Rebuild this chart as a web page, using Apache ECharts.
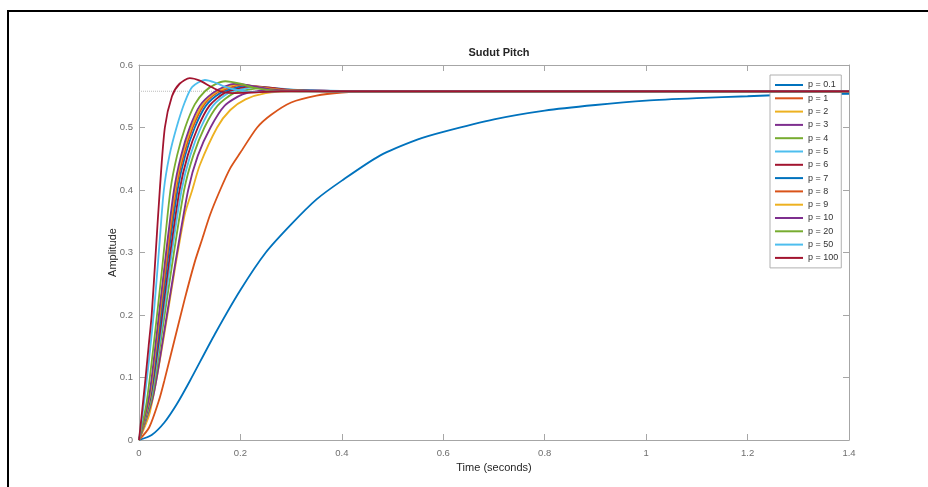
<!DOCTYPE html>
<html>
<head>
<meta charset="utf-8">
<script src="https://cdn.jsdelivr.net/npm/echarts@6/dist/echarts.min.js"></script>
<style>
  html, body { margin: 0; padding: 0; background: #fff; }
  #chart { width: 928px; height: 487px; }
</style>
</head>
<body>
<div id="chart"></div>
<script>
// Step responses of the pitch angle for several values of p: [time (s), amplitude]
const p0_1 = [[0,0],[0.025,0.008],[0.05,0.028],[0.075,0.058],[0.1,0.094],[0.15,0.17],[0.2,0.24],[0.25,0.3],[0.3,0.345],[0.35,0.385],[0.4,0.415],[0.475,0.455],[0.55,0.481],[0.6,0.493],[0.7,0.513],[0.8,0.527],[0.9,0.536],[1.0,0.543],[1.1,0.547],[1.2,0.55],[1.3,0.553],[1.4,0.554]];
const p1 = [[0,0],[0.02,0.02],[0.04,0.065],[0.05,0.095],[0.07,0.16],[0.09,0.225],[0.11,0.285],[0.124,0.32],[0.14,0.36],[0.16,0.4],[0.18,0.435],[0.2,0.46],[0.233,0.5],[0.26,0.52],[0.3,0.54],[0.35,0.551],[0.4,0.556],[0.45,0.558],[1.4,0.558]];
const p2 = [[0,0],[0.02,0.04],[0.035,0.1],[0.05,0.17],[0.07,0.27],[0.09,0.36],[0.105,0.4],[0.12,0.44],[0.154,0.5],[0.18,0.528],[0.21,0.545],[0.25,0.555],[0.3,0.558],[1.4,0.558]];
const p3 = [[0,0],[0.028,0.07],[0.049,0.17],[0.073,0.29],[0.097,0.4],[0.116,0.455],[0.141,0.5],[0.169,0.535],[0.204,0.553],[0.239,0.559],[0.267,0.561],[0.31,0.56],[0.366,0.559],[0.422,0.558],[1.4,0.558]];
const p4 = [[0,0],[0.026,0.07],[0.045,0.17],[0.067,0.29],[0.089,0.4],[0.107,0.455],[0.129,0.5],[0.155,0.535],[0.187,0.555],[0.219,0.561],[0.245,0.563],[0.285,0.561],[0.336,0.559],[0.387,0.558],[1.4,0.558]];
const p5 = [[0,0],[0.024,0.07],[0.043,0.17],[0.063,0.29],[0.084,0.4],[0.101,0.455],[0.122,0.5],[0.146,0.535],[0.176,0.555],[0.207,0.562],[0.231,0.565],[0.269,0.563],[0.317,0.56],[0.365,0.559],[0.437,0.558],[1.4,0.558]];
const p6 = [[0,0],[0.023,0.07],[0.041,0.17],[0.06,0.29],[0.08,0.4],[0.096,0.455],[0.116,0.5],[0.139,0.535],[0.168,0.555],[0.197,0.563],[0.22,0.566],[0.256,0.564],[0.302,0.56],[0.348,0.559],[0.416,0.558],[1.4,0.558]];
const p7 = [[0,0],[0.022,0.07],[0.039,0.17],[0.057,0.29],[0.076,0.4],[0.091,0.455],[0.11,0.5],[0.132,0.535],[0.16,0.555],[0.187,0.563],[0.209,0.567],[0.243,0.564],[0.287,0.56],[0.331,0.559],[0.395,0.558],[1.4,0.558]];
const p8 = [[0,0],[0.021,0.07],[0.037,0.17],[0.055,0.29],[0.073,0.4],[0.088,0.455],[0.106,0.5],[0.127,0.535],[0.153,0.555],[0.18,0.564],[0.2,0.568],[0.234,0.565],[0.275,0.561],[0.318,0.559],[0.38,0.558],[1.4,0.558]];
const p9 = [[0,0],[0.021,0.07],[0.036,0.17],[0.053,0.29],[0.071,0.4],[0.085,0.455],[0.103,0.5],[0.124,0.535],[0.149,0.555],[0.175,0.565],[0.195,0.569],[0.227,0.566],[0.268,0.561],[0.309,0.559],[0.37,0.558],[1.4,0.558]];
const p10 = [[0,0],[0.02,0.07],[0.035,0.17],[0.052,0.29],[0.069,0.4],[0.083,0.455],[0.1,0.5],[0.12,0.535],[0.145,0.555],[0.17,0.566],[0.19,0.57],[0.22,0.567],[0.26,0.561],[0.3,0.559],[0.36,0.558],[1.4,0.558]];
const p20 = [[0,0],[0.015,0.06],[0.03,0.16],[0.045,0.27],[0.062,0.4],[0.075,0.455],[0.091,0.5],[0.11,0.537],[0.13,0.558],[0.15,0.569],[0.17,0.574],[0.2,0.57],[0.23,0.563],[0.27,0.559],[0.32,0.558],[1.4,0.558]];
const p50 = [[0,0],[0.01,0.06],[0.02,0.13],[0.03,0.21],[0.04,0.31],[0.049,0.4],[0.06,0.455],[0.074,0.5],[0.09,0.54],[0.105,0.565],[0.13,0.576],[0.15,0.572],[0.17,0.565],[0.2,0.559],[0.23,0.557],[0.28,0.558],[1.4,0.558]];
const p100 = [[0,0],[0.006,0.045],[0.013,0.1],[0.019,0.15],[0.025,0.2],[0.033,0.3],[0.041,0.4],[0.051,0.5],[0.065,0.55],[0.08,0.57],[0.1,0.579],[0.12,0.575],[0.14,0.566],[0.16,0.558],[0.185,0.555],[0.22,0.556],[0.28,0.558],[1.4,0.558]];

const seriesNames = ['p = 0.1','p = 1','p = 2','p = 3','p = 4','p = 5','p = 6','p = 7','p = 8','p = 9','p = 10','p = 20','p = 50','p = 100'];
const seriesData = [p0_1, p1, p2, p3, p4, p5, p6, p7, p8, p9, p10, p20, p50, p100];
const steadyState = 0.558;

const xTicks = [0, 0.2, 0.4, 0.6, 0.8, 1, 1.2, 1.4];
const yTicks = [0, 0.1, 0.2, 0.3, 0.4, 0.5, 0.6];

const palette = ['#0072BD','#D95319','#EDB120','#7E2F8E','#77AC30','#4DBEEE','#A2142F'];
const axisGray = '#a6a6a6';
const labelGray = '#6e6e6e';
const fontFamily = 'Liberation Sans, Arial, sans-serif';

const chart = echarts.init(document.getElementById('chart'), null, { renderer: 'canvas' });

const lineSeries = seriesData.map((d, i) => ({
  name: seriesNames[i],
  type: 'line',
  data: d,
  showSymbol: false,
  symbol: 'none',
  smooth: 0.25,
  lineStyle: { width: 1.8, color: palette[i % palette.length] },
  itemStyle: { color: palette[i % palette.length] },
  z: 3 + i
}));

// top and right edges of the axes box, ticks pointing inward, no labels
const boxAxis = {
  type: 'value',
  axisLine: { show: true, onZero: false, lineStyle: { color: axisGray, width: 1 } },
  axisTick: { show: true, inside: true, length: 6, lineStyle: { color: axisGray } },
  axisLabel: { show: false },
  splitLine: { show: false }
};

chart.setOption({
  animation: false,
  backgroundColor: '#fff',
  color: palette,
  title: {
    text: 'Sudut Pitch',
    left: 494,
    top: 42,
    textAlign: 'center',
    textStyle: { fontFamily, fontSize: 11, fontWeight: 'bold', color: '#262626' }
  },
  grid: { left: 139, right: 79, top: 65, bottom: 47, containLabel: false },
  legend: {
    orient: 'vertical',
    left: 770,
    top: 75,
    data: seriesNames,
    icon: 'rect',
    itemWidth: 28,
    itemHeight: 2,
    itemGap: 2.3,
    padding: [4.5, 3, 4.5, 5],
    backgroundColor: '#fff',
    borderColor: '#b0b0b0',
    borderWidth: 1,
    borderRadius: 0,
    textStyle: { fontFamily, fontSize: 9, color: '#333', lineHeight: 11, padding: [0, 0, 0, 0] },
    selectedMode: false
  },
  xAxis: [
    {
      type: 'value',
      min: 0, max: 1.4, interval: 0.2,
      name: 'Time (seconds)',
      nameLocation: 'middle',
      nameGap: 22,
      nameMoveOverlap: false,
      nameTextStyle: { fontFamily, fontSize: 11, color: '#262626' },
      axisLine: { show: true, onZero: false, lineStyle: { color: axisGray, width: 1 } },
      axisTick: { show: true, inside: true, length: 6, lineStyle: { color: axisGray } },
      axisLabel: { fontFamily, fontSize: 9.5, color: labelGray, margin: 8,
        formatter: v => { const t = xTicks.find(x => Math.abs(x - v) < 1e-9); return t === undefined ? '' : String(t); } },
      splitLine: { show: false }
    },
    Object.assign({}, boxAxis, { position: 'top', min: 0, max: 1.4, interval: 0.2 })
  ],
  yAxis: [
    {
      type: 'value',
      min: 0, max: 0.6, interval: 0.1,
      name: 'Amplitude',
      nameLocation: 'middle',
      nameGap: 21,
      nameMoveOverlap: false,
      nameTextStyle: { fontFamily, fontSize: 11, color: '#262626' },
      axisLine: { show: true, onZero: false, lineStyle: { color: axisGray, width: 1 } },
      axisTick: { show: true, inside: true, length: 6, lineStyle: { color: axisGray } },
      axisLabel: { fontFamily, fontSize: 9.5, color: labelGray, margin: 6,
        formatter: v => { const t = yTicks.find(y => Math.abs(y - v) < 1e-9); return t === undefined ? '' : String(t); } },
      splitLine: { show: false }
    },
    Object.assign({}, boxAxis, { position: 'right', min: 0, max: 0.6, interval: 0.1 })
  ],
  series: [
    {
      name: 'steady',
      type: 'line',
      data: [[0, steadyState], [1.4, steadyState]],
      symbol: 'none',
      lineStyle: { type: 'dotted', width: 1, color: '#bdbdbd' },
      z: 1,
      silent: true
    }
  ].concat(lineSeries),
  graphic: [
    {
      type: 'rect',
      shape: { x: 8, y: 11, width: 1000, height: 1000 },
      style: { fill: 'none', stroke: '#000', lineWidth: 2 },
      silent: true
    }
  ]
});
</script>
</body>
</html>
